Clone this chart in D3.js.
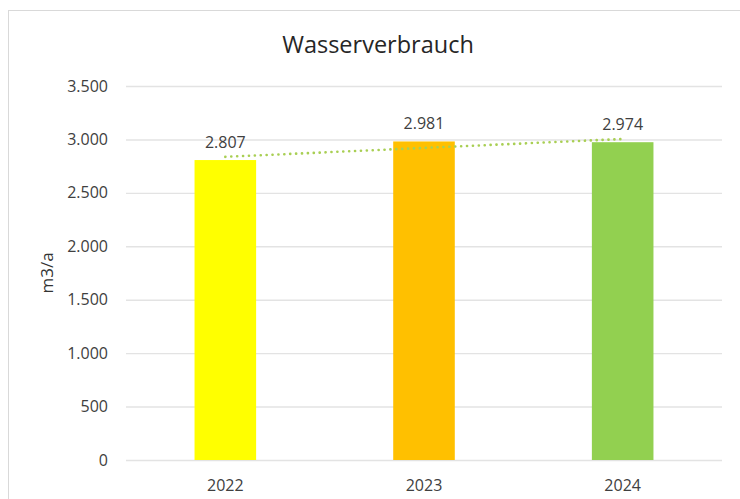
<!DOCTYPE html>
<html>
<head>
<meta charset="utf-8">
<script src="https://cdn.jsdelivr.net/npm/d3@7"></script>
<style>
  body { margin: 0; background: #fff; }
  svg { display: block; font-family: "Open Sans", sans-serif; }
</style>
</head>
<body>
<div id="chart"></div>
<script>
const years = ["2022", "2023", "2024"];
const verbrauch = [2807, 2981, 2974];
const barColors = ["#FFFF00", "#FFC000", "#92D050"];
const yTicks = [0, 500, 1000, 1500, 2000, 2500, 3000, 3500];

const W = 740, H = 499;
const margin = { top: 86, right: 18, bottom: 39, left: 126 };
const width = W - margin.left - margin.right,
      height = H - margin.top - margin.bottom;

const fmt = d3.formatLocale({ decimal: ",", thousands: ".", grouping: [3], currency: ["", " €"] }).format(",d");

const svg = d3.select("#chart")
    .append("svg")
    .attr("width", W)
    .attr("height", H);

// Rahmen des Diagrammbereichs (rechts/unten ausserhalb des Bildes)
svg.append("rect")
    .attr("x", 8.5).attr("y", 10.5)
    .attr("width", 760).attr("height", 520)
    .attr("fill", "none")
    .attr("stroke", "#D9D9D9");

svg.append("text")
    .attr("x", 378)
    .attr("y", 53)
    .attr("text-anchor", "middle")
    .style("font-size", "23.5px")
    .style("fill", "#262626")
    .text("Wasserverbrauch");

const g = svg.append("g")
    .attr("transform", `translate(${margin.left},${margin.top})`);

const x = d3.scaleBand()
    .domain(years)
    .range([0, width])
    .paddingInner(0.69)
    .paddingOuter(0.345);

const y = d3.scaleLinear()
    .domain([0, 3500])
    .range([height, 0]);

// Gitterlinien
g.append("g")
    .call(d3.axisLeft(y).tickValues(yTicks).tickSize(-width).tickFormat(""))
    .call(a => a.select(".domain").remove())
    .call(a => a.selectAll("line").attr("stroke", "#E3E3E3").attr("stroke-width", 1.4));

// Y-Achse Beschriftung
g.append("g")
    .call(d3.axisLeft(y).tickValues(yTicks).tickSize(0).tickPadding(18).tickFormat(fmt))
    .call(a => a.select(".domain").remove())
    .call(a => a.selectAll("text")
        .style("font-size", "16px")
        .style("font-family", "'Open Sans', sans-serif")
        .attr("fill", "#404040"));

// X-Achse
g.append("g")
    .attr("transform", `translate(0,${height})`)
    .call(d3.axisBottom(x).tickSize(0).tickPadding(20))
    .call(a => a.select(".domain").remove())
    .call(a => a.selectAll("text")
        .style("font-size", "16px")
        .style("font-family", "'Open Sans', sans-serif")
        .attr("fill", "#404040"));

// Balken
g.selectAll(".bar")
    .data(years)
    .enter()
    .append("rect")
    .attr("class", "bar")
    .attr("x", d => x(d))
    .attr("y", (d, i) => y(verbrauch[i]))
    .attr("width", x.bandwidth())
    .attr("height", (d, i) => height - y(verbrauch[i]))
    .attr("fill", (d, i) => barColors[i]);

// Datenbeschriftung
g.selectAll(".label")
    .data(years)
    .enter()
    .append("text")
    .attr("class", "label")
    .attr("x", d => x(d) + x.bandwidth() / 2)
    .attr("y", (d, i) => y(verbrauch[i]) - 12)
    .attr("text-anchor", "middle")
    .style("font-size", "16px")
    .attr("fill", "#404040")
    .text((d, i) => fmt(verbrauch[i]));

// Lineare Trendlinie (kleinste Quadrate)
const xs = verbrauch.map((v, i) => i);
const mx = d3.mean(xs), my = d3.mean(verbrauch);
const slope = d3.sum(xs, (xi, i) => (xi - mx) * (verbrauch[i] - my)) / d3.sum(xs, xi => (xi - mx) ** 2);
const trend = xs.map(xi => my + slope * (xi - mx));

g.append("path")
    .datum(trend)
    .attr("fill", "none")
    .attr("stroke", "#A9CF54")
    .attr("stroke-width", 2.6)
    .attr("stroke-linecap", "round")
    .attr("stroke-dasharray", "0.1 5.8")
    .attr("d", d3.line()
        .x((d, i) => x(years[i]) + x.bandwidth() / 2)
        .y(d => y(d)));

// Achsentitel
svg.append("text")
    .attr("transform", `translate(53,${margin.top + height / 2}) rotate(-90)`)
    .attr("text-anchor", "middle")
    .style("font-size", "17px")
    .attr("fill", "#333333")
    .text("m3/a");
</script>
</body>
</html>
